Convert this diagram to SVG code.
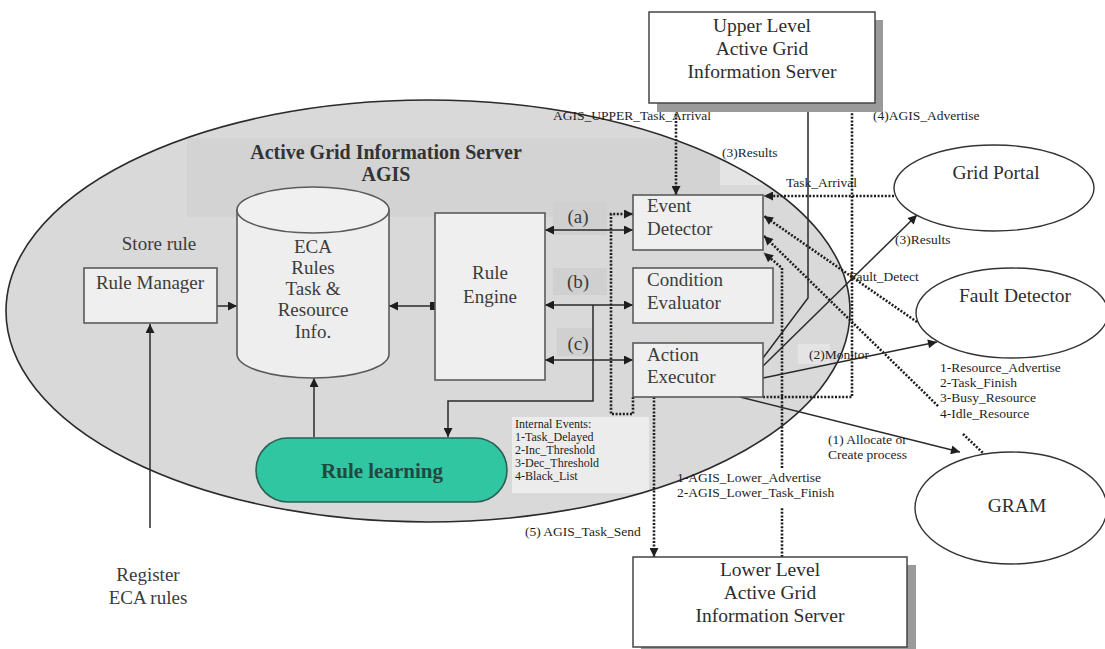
<svg xmlns="http://www.w3.org/2000/svg" width="1105" height="649" viewBox="0 0 1105 649">
  <defs>
    <style>
      .box { fill: #efefef; stroke: #5a5a5a; stroke-width: 1.6; }
      .oval { fill: #ffffff; stroke: #333333; stroke-width: 1.4; }
      .big { font-family: "Liberation Serif", "Times New Roman", serif; font-size: 19px; fill: #3c3c3c; }
      .mid { font-family: "Liberation Serif", "Times New Roman", serif; font-size: 19.5px; fill: #2e2e2e; }
      .small { font-family: "Liberation Serif", "Times New Roman", serif; font-size: 13.5px; fill: #1e1e1e; }
      .tiny { font-family: "Liberation Serif", "Times New Roman", serif; font-size: 12px; fill: #1e1e1e; }
      .title { font-family: "Liberation Serif", "Times New Roman", serif; font-size: 20px; font-weight: bold; fill: #333333; }
      .solid { fill: none; stroke: #2a2a2a; stroke-width: 1.5; }
      .dots { fill: none; stroke: #1e1e1e; stroke-width: 2.6; stroke-dasharray: 2 1.6; }
      .arr { marker-end: url(#ah); }
      .arr2 { marker-start: url(#ah); marker-end: url(#ah); }
    </style>
    <marker id="ah" viewBox="0 0 10 10" refX="10" refY="5" markerWidth="10" markerHeight="9" markerUnits="userSpaceOnUse" orient="auto-start-reverse">
      <path d="M0,0 L10,5 L0,10 z" fill="#1e1e1e"/>
    </marker>
    <clipPath id="inside">
      <ellipse cx="428" cy="311" rx="422" ry="211"/>
    </clipPath>
  </defs>

  <rect width="1105" height="649" fill="#ffffff"/>

  <!-- AGIS boundary -->
  <g id="agis-boundary">
    <ellipse cx="428" cy="311" rx="422" ry="211" fill="#d9d9d9"/>
    <g clip-path="url(#inside)">
      <rect x="187" y="138" width="533" height="79" fill="#d3d3d3"/>
      <rect x="720" y="125" width="140" height="60" fill="#e4e4e4"/>
      <rect x="553" y="202" width="54" height="33" fill="#d0d0d0"/>
      <rect x="553" y="268" width="54" height="27" fill="#d0d0d0"/>
      <rect x="557" y="328" width="36" height="28" fill="#d0d0d0"/>
      <rect x="798" y="344" width="32" height="20" fill="#e4e4e4"/>
    </g>
    <rect x="512" y="417" width="137" height="76" fill="#ececec"/>
    <ellipse cx="428" cy="311" rx="422" ry="211" fill="none" stroke="#2a2a2a" stroke-width="1.6"/>
    <text class="title" x="386" y="159" text-anchor="middle">Active Grid Information Server</text>
    <text class="title" x="386" y="181" text-anchor="middle">AGIS</text>
  </g>

  <!-- connectors -->
  <g id="connectors">
    <line class="solid arr" x1="150" y1="528" x2="150" y2="324"/>
    <line class="solid arr" x1="217" y1="306" x2="237" y2="306"/>
    <line class="solid" x1="389" y1="306" x2="433" y2="306" marker-start="url(#ah)"/>
    <rect x="430" y="302" width="5" height="8" fill="#1e1e1e"/>
    <line class="solid arr2" x1="545" y1="230" x2="633" y2="230"/>
    <line class="solid arr2" x1="545" y1="305" x2="633" y2="305"/>
    <line class="solid arr2" x1="545" y1="360" x2="633" y2="360"/>
    <polyline class="solid arr" points="593,305 593,401 448,401 448,437"/>
    <line class="solid arr" x1="314" y1="437" x2="314" y2="378"/>

    <polyline class="dots arr" points="633,397 633,414 611,414 611,214 633,214"/>
    <line class="dots arr" x1="676" y1="103" x2="676" y2="195"/>
    <line class="dots arr" x1="894" y1="196" x2="764" y2="196"/>
    <line class="dots arr" x1="917" y1="322" x2="764" y2="216"/>
    <line class="dots arr" x1="938" y1="406" x2="764" y2="236"/>
    <line class="dots" x1="782" y1="557" x2="782" y2="508"/>
    <polyline class="dots arr" points="782,468 782,268 764,253"/>
    <line class="dots arr" x1="654" y1="397" x2="654" y2="557"/>
    <polyline class="dots arr" points="763,397 852,397 852,103"/>
    <line class="dots" x1="963" y1="434" x2="983" y2="453"/>

    <polyline class="solid arr" points="763,358 808,298 808,103"/>
    <line class="solid arr" x1="763" y1="366" x2="917" y2="215"/>
    <line class="solid arr" x1="763" y1="378" x2="937" y2="342"/>
    <line class="solid arr" x1="740" y1="397" x2="960" y2="452"/>

    <text class="small" x="553" y="120">AGIS_UPPER_Task_Arrival</text>
    <text class="small" x="873" y="120">(4)AGIS_Advertise</text>
    <text class="small" x="722" y="157">(3)Results</text>
    <text class="small" x="786" y="187">Task_Arrival</text>
    <text class="small" x="895" y="244">(3)Results</text>
    <text class="small" x="849" y="281">Fault_Detect</text>
    <text class="small" x="809" y="359">(2)Monitor</text>
    <text class="small" x="940" y="372">1-Resource_Advertise</text>
    <text class="small" x="940" y="387">2-Task_Finish</text>
    <text class="small" x="940" y="402">3-Busy_Resource</text>
    <text class="small" x="940" y="418">4-Idle_Resource</text>
    <text class="small" x="828" y="444">(1) Allocate or</text>
    <text class="small" x="828" y="459">Create process</text>
    <text class="small" x="677" y="482">1-AGIS_Lower_Advertise</text>
    <text class="small" x="677" y="497">2-AGIS_Lower_Task_Finish</text>
    <text class="small" x="525" y="536">(5) AGIS_Task_Send</text>
    <text class="tiny" x="515" y="428">Internal Events:</text>
    <text class="tiny" x="515" y="441">1-Task_Delayed</text>
    <text class="tiny" x="515" y="454">2-Inc_Threshold</text>
    <text class="tiny" x="515" y="467">3-Dec_Threshold</text>
    <text class="tiny" x="515" y="480">4-Black_List</text>
    <text class="big" x="578" y="223" text-anchor="middle">(a)</text>
    <text class="big" x="578" y="288" text-anchor="middle">(b)</text>
    <text class="big" x="578" y="350" text-anchor="middle">(c)</text>
    <text class="big" x="159" y="250" text-anchor="middle">Store rule</text>
    <text class="big" x="148" y="581" text-anchor="middle" font-size="20">Register</text>
    <text class="big" x="148" y="604" text-anchor="middle" font-size="20">ECA rules</text>
  </g>

  <!-- nodes -->
  <g id="rule-manager">
    <rect class="box" x="84" y="268" width="133" height="55"/>
    <text class="big" x="150" y="289" text-anchor="middle">Rule Manager</text>
  </g>

  <g id="eca-store">
    <path d="M237,210 L237,354 A76,24 0 0 0 389,354 L389,210 Z" fill="#eeeeee" stroke="#5a5a5a" stroke-width="1.6"/>
    <ellipse cx="313" cy="210" rx="76" ry="23" fill="#f0f0f0" stroke="#5a5a5a" stroke-width="1.6"/>
    <text class="big" x="313" y="253" text-anchor="middle">ECA</text>
    <text class="big" x="313" y="274" text-anchor="middle">Rules</text>
    <text class="big" x="313" y="295" text-anchor="middle">Task &amp;</text>
    <text class="big" x="313" y="316" text-anchor="middle">Resource</text>
    <text class="big" x="313" y="338" text-anchor="middle">Info.</text>
  </g>

  <g id="rule-engine">
    <rect class="box" x="435" y="213" width="110" height="167"/>
    <text class="big" x="490" y="279" text-anchor="middle">Rule</text>
    <text class="big" x="490" y="303" text-anchor="middle">Engine</text>
  </g>

  <g id="event-detector">
    <rect class="box" x="633" y="195" width="130" height="55"/>
    <text class="big" x="647" y="212">Event</text>
    <text class="big" x="647" y="235">Detector</text>
  </g>

  <g id="condition-evaluator">
    <rect class="box" x="633" y="268" width="140" height="55"/>
    <text class="big" x="647" y="286">Condition</text>
    <text class="big" x="647" y="309">Evaluator</text>
  </g>

  <g id="action-executor">
    <rect class="box" x="633" y="343" width="130" height="54"/>
    <text class="big" x="647" y="361">Action</text>
    <text class="big" x="647" y="383">Executor</text>
  </g>

  <g id="rule-learning">
    <rect x="256" y="438" width="251" height="64" rx="32" ry="32" fill="#2fc6a1" stroke="#2d5f53" stroke-width="1.6"/>
    <text x="382" y="478" text-anchor="middle" font-family="'Liberation Serif', 'Times New Roman', serif" font-size="21" font-weight="bold" fill="#1f4a40">Rule learning</text>
  </g>

  <g id="upper-agis">
    <rect x="657" y="20" width="226" height="92" fill="#9a9a9a"/>
    <rect x="649" y="12" width="226" height="91" fill="#ffffff" stroke="#444444" stroke-width="1.5"/>
    <text class="mid" x="762" y="32" text-anchor="middle">Upper Level</text>
    <text class="mid" x="762" y="55" text-anchor="middle">Active Grid</text>
    <text class="mid" x="762" y="78" text-anchor="middle">Information Server</text>
  </g>

  <g id="lower-agis">
    <rect x="641" y="565" width="275" height="92" fill="#9a9a9a"/>
    <rect x="633" y="557" width="274" height="90" fill="#ffffff" stroke="#444444" stroke-width="1.5"/>
    <text class="mid" x="770" y="576" text-anchor="middle">Lower Level</text>
    <text class="mid" x="770" y="599" text-anchor="middle">Active Grid</text>
    <text class="mid" x="770" y="622" text-anchor="middle">Information Server</text>
  </g>

  <g id="grid-portal">
    <ellipse class="oval" cx="994" cy="188" rx="100" ry="43"/>
    <text class="mid" x="996" y="179" text-anchor="middle" font-size="21">Grid Portal</text>
  </g>

  <g id="fault-detector">
    <ellipse class="oval" cx="1012" cy="313" rx="96" ry="45"/>
    <text class="mid" x="1015" y="302" text-anchor="middle" font-size="20">Fault Detector</text>
  </g>

  <g id="gram">
    <ellipse class="oval" cx="1011" cy="508" rx="96" ry="56"/>
    <text class="mid" x="1017" y="512" text-anchor="middle" font-size="20">GRAM</text>
  </g>
</svg>
